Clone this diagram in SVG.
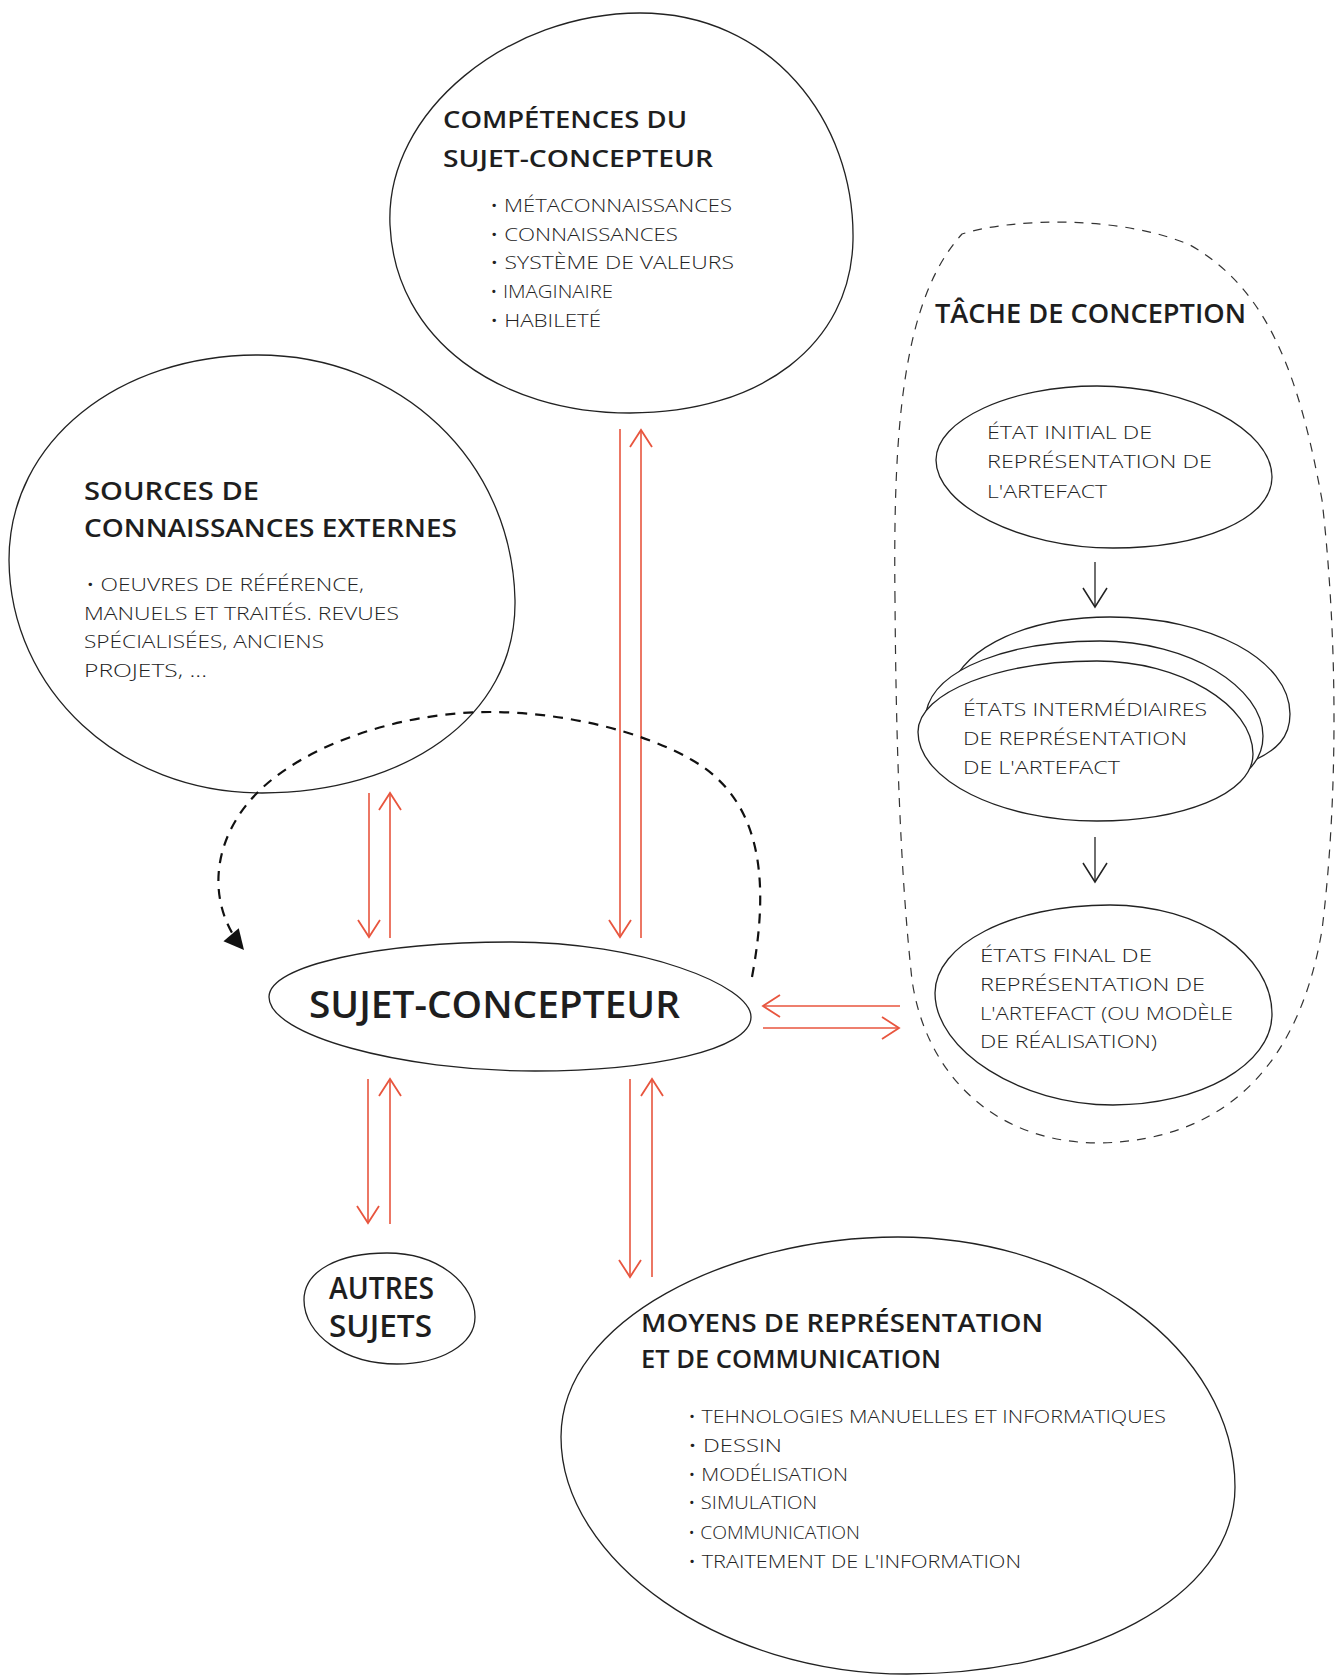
<svg xmlns="http://www.w3.org/2000/svg" width="1338" height="1675" viewBox="0 0 1338 1675">
<style>
  .bg{fill:#ffffff}
  .outline{fill:#ffffff;stroke:#222222;stroke-width:1.3}
  .boundary{fill:none;stroke:#333333;stroke-width:1.2;stroke-dasharray:9 8}
  .title{font-family:"Open Sans","Liberation Sans",sans-serif;font-weight:600;fill:#1e1e1e}
  .item{font-family:"Open Sans","Liberation Sans",sans-serif;font-weight:300;fill:#222222}
  .red{fill:none;stroke:#e8553e;stroke-width:1.6}
  .blk{fill:none;stroke:#222222;stroke-width:1.3}
  .loop{fill:none;stroke:#111111;stroke-width:2.2;stroke-dasharray:10 8}
</style>
<defs>
  <marker id="redV" viewBox="-20 -13 22 26" refX="0" refY="0" markerWidth="22" markerHeight="26" markerUnits="userSpaceOnUse" orient="auto">
    <path d="M-17,-11 L0,0 L-17,11" fill="none" stroke="#e8553e" stroke-width="1.8"/>
  </marker>
  <marker id="blkV" viewBox="-22 -14 24 28" refX="0" refY="0" markerWidth="24" markerHeight="28" markerUnits="userSpaceOnUse" orient="auto">
    <path d="M-19,-12 L0,0 L-19,12" fill="none" stroke="#222222" stroke-width="1.5"/>
  </marker>
  <marker id="blkTri" viewBox="-22 -12 24 24" refX="0" refY="0" markerWidth="24" markerHeight="24" markerUnits="userSpaceOnUse" orient="auto">
    <path d="M-20,-10 L0,0 L-20,10 Z" fill="#111111"/>
  </marker>
</defs>
<rect class="bg" x="0" y="0" width="1338" height="1675"/>

<g id="tache-de-conception">
  <path class="boundary" d="M 895,600 C 893,430 902,300 962,234 C 1012,218 1120,215 1190,245 C 1270,290 1300,380 1322,500 C 1338,640 1338,800 1322,930 C 1300,1060 1230,1140 1100,1143 C 990,1143 925,1070 912,980 C 900,870 896,740 895,600 Z"/>
  <text class="title" x="935" y="323" font-size="27" textLength="311" lengthAdjust="spacingAndGlyphs">TÂCHE DE CONCEPTION</text>
</g>

<g id="competences">
  <path class="outline" d="M 390,225 C 385,110 510,13 640,13 C 770,13 855,120 853,240 C 851,345 760,413 630,413 C 500,413 395,340 390,225 Z"/>
  <text class="title" x="443" y="128" font-size="24" textLength="244" lengthAdjust="spacingAndGlyphs">COMPÉTENCES DU</text>
  <text class="title" x="443" y="167" font-size="24" textLength="270" lengthAdjust="spacingAndGlyphs">SUJET-CONCEPTEUR</text>
  <text class="item" x="490" y="212" font-size="18" textLength="242" lengthAdjust="spacingAndGlyphs">• MÉTACONNAISSANCES</text>
  <text class="item" x="490" y="241" font-size="18" textLength="188" lengthAdjust="spacingAndGlyphs">• CONNAISSANCES</text>
  <text class="item" x="490" y="269" font-size="18" textLength="244" lengthAdjust="spacingAndGlyphs">• SYSTÈME DE VALEURS</text>
  <text class="item" x="490" y="298" font-size="18" textLength="123" lengthAdjust="spacingAndGlyphs">• IMAGINAIRE</text>
  <text class="item" x="490" y="327" font-size="18" textLength="111" lengthAdjust="spacingAndGlyphs">• HABILETÉ</text>
</g>

<g id="sources">
  <path class="outline" d="M 9,560 C 9,440 120,355 258,355 C 400,355 512,460 515,600 C 517,720 400,793 262,793 C 120,793 10,690 9,560 Z"/>
  <text class="title" x="84" y="500" font-size="25" textLength="175" lengthAdjust="spacingAndGlyphs">SOURCES DE</text>
  <text class="title" x="84" y="537" font-size="25" textLength="373" lengthAdjust="spacingAndGlyphs">CONNAISSANCES EXTERNES</text>
  <text class="item" x="86" y="591" font-size="18" textLength="278" lengthAdjust="spacingAndGlyphs">• OEUVRES DE RÉFÉRENCE,</text>
  <text class="item" x="84" y="620" font-size="18" textLength="315" lengthAdjust="spacingAndGlyphs">MANUELS ET TRAITÉS. REVUES</text>
  <text class="item" x="84" y="648" font-size="18" textLength="240" lengthAdjust="spacingAndGlyphs">SPÉCIALISÉES, ANCIENS</text>
  <text class="item" x="84" y="677" font-size="18" textLength="123" lengthAdjust="spacingAndGlyphs">PROJETS, ...</text>
</g>

<g id="etat-initial">
  <path class="outline" d="M 936,460 C 936,420 1010,386 1097,386 C 1190,386 1272,430 1272,477 C 1272,520 1200,548 1113,548 C 1020,548 936,505 936,460 Z"/>
  <text class="item" x="987" y="439" font-size="19" textLength="165" lengthAdjust="spacingAndGlyphs">ÉTAT INITIAL DE</text>
  <text class="item" x="987" y="468" font-size="19" textLength="225" lengthAdjust="spacingAndGlyphs">REPRÉSENTATION DE</text>
  <text class="item" x="987" y="498" font-size="19" textLength="120" lengthAdjust="spacingAndGlyphs">L'ARTEFACT</text>
</g>

<g id="etats-intermediaires">
  <path class="outline" d="M 950,690 C 965,645 1030,617 1110,617 C 1210,617 1290,660 1290,714 C 1290,738 1276,750 1255,760 C 1180,790 1000,780 950,690 Z"/>
  <path class="outline" d="M 926,712 C 935,668 1010,641 1100,641 C 1190,641 1263,688 1263,736 C 1263,770 1230,795 1150,800 C 1040,805 930,770 926,712 Z"/>
  <path class="outline" d="M 918,732 C 918,692 1000,661 1097,661 C 1180,661 1253,705 1253,754 C 1253,795 1180,821 1097,821 C 1000,821 918,780 918,732 Z"/>
  <text class="item" x="963" y="716" font-size="19" textLength="244" lengthAdjust="spacingAndGlyphs">ÉTATS INTERMÉDIAIRES</text>
  <text class="item" x="963" y="745" font-size="19" textLength="224" lengthAdjust="spacingAndGlyphs">DE REPRÉSENTATION</text>
  <text class="item" x="963" y="774" font-size="19" textLength="157" lengthAdjust="spacingAndGlyphs">DE L'ARTEFACT</text>
</g>

<g id="etat-final">
  <path class="outline" d="M 935,993 C 935,945 1010,905 1110,905 C 1200,905 1272,955 1272,1014 C 1272,1065 1200,1105 1113,1105 C 1020,1105 935,1050 935,993 Z"/>
  <text class="item" x="980" y="962" font-size="19" textLength="172" lengthAdjust="spacingAndGlyphs">ÉTATS FINAL DE</text>
  <text class="item" x="980" y="991" font-size="19" textLength="225" lengthAdjust="spacingAndGlyphs">REPRÉSENTATION DE</text>
  <text class="item" x="980" y="1020" font-size="19" textLength="253" lengthAdjust="spacingAndGlyphs">L'ARTEFACT (OU MODÈLE</text>
  <text class="item" x="980" y="1048" font-size="19" textLength="177" lengthAdjust="spacingAndGlyphs">DE RÉALISATION)</text>
</g>

<g id="sujet-concepteur">
  <path class="outline" d="M 269,997 C 269,965 380,942 512,942 C 640,942 751,985 751,1017 C 751,1050 650,1071 535,1071 C 400,1071 269,1035 269,997 Z"/>
  <text class="title" x="309" y="1018" font-size="37" textLength="371" lengthAdjust="spacingAndGlyphs">SUJET-CONCEPTEUR</text>
</g>

<g id="autres-sujets">
  <path class="outline" d="M 304,1300 C 304,1270 340,1253 387,1253 C 440,1253 475,1285 475,1317 C 475,1345 440,1364 397,1364 C 345,1364 304,1335 304,1300 Z"/>
  <text class="title" x="329" y="1299" font-size="30" textLength="105" lengthAdjust="spacingAndGlyphs">AUTRES</text>
  <text class="title" x="329" y="1337" font-size="30" textLength="103" lengthAdjust="spacingAndGlyphs">SUJETS</text>
</g>

<g id="moyens">
  <path class="outline" d="M 561,1437 C 561,1320 730,1237 898,1237 C 1080,1237 1235,1350 1235,1487 C 1235,1600 1080,1674 907,1674 C 720,1674 561,1560 561,1437 Z"/>
  <text class="title" x="641" y="1332" font-size="25" textLength="402" lengthAdjust="spacingAndGlyphs">MOYENS DE REPRÉSENTATION</text>
  <text class="title" x="641" y="1368" font-size="25" textLength="300" lengthAdjust="spacingAndGlyphs">ET DE COMMUNICATION</text>
  <text class="item" x="688" y="1423" font-size="19" textLength="478" lengthAdjust="spacingAndGlyphs">• TEHNOLOGIES MANUELLES ET INFORMATIQUES</text>
  <text class="item" x="688" y="1452" font-size="19" textLength="94" lengthAdjust="spacingAndGlyphs">• DESSIN</text>
  <text class="item" x="688" y="1481" font-size="19" textLength="160" lengthAdjust="spacingAndGlyphs">• MODÉLISATION</text>
  <text class="item" x="688" y="1509" font-size="19" textLength="129" lengthAdjust="spacingAndGlyphs">• SIMULATION</text>
  <text class="item" x="688" y="1539" font-size="19" textLength="172" lengthAdjust="spacingAndGlyphs">• COMMUNICATION</text>
  <text class="item" x="688" y="1568" font-size="19" textLength="333" lengthAdjust="spacingAndGlyphs">• TRAITEMENT DE L'INFORMATION</text>
</g>

<g id="connectors">
  <!-- sources <-> sujet -->
  <line class="red" x1="369" y1="793" x2="369" y2="937" marker-end="url(#redV)"/>
  <line class="red" x1="390" y1="938" x2="390" y2="793" marker-end="url(#redV)"/>
  <!-- competences <-> sujet -->
  <line class="red" x1="620" y1="429" x2="620" y2="937" marker-end="url(#redV)"/>
  <line class="red" x1="641" y1="938" x2="641" y2="430" marker-end="url(#redV)"/>
  <!-- sujet <-> autres -->
  <line class="red" x1="368" y1="1079" x2="368" y2="1223" marker-end="url(#redV)"/>
  <line class="red" x1="390" y1="1224" x2="390" y2="1079" marker-end="url(#redV)"/>
  <!-- sujet <-> moyens -->
  <line class="red" x1="630" y1="1079" x2="630" y2="1277" marker-end="url(#redV)"/>
  <line class="red" x1="652" y1="1277" x2="652" y2="1079" marker-end="url(#redV)"/>
  <!-- sujet <-> tache -->
  <line class="red" x1="900" y1="1006" x2="763" y2="1006" marker-end="url(#redV)"/>
  <line class="red" x1="763" y1="1028" x2="899" y2="1028" marker-end="url(#redV)"/>
  <!-- task flow -->
  <line class="blk" x1="1095" y1="562" x2="1095" y2="607" marker-end="url(#blkV)"/>
  <line class="blk" x1="1095" y1="837" x2="1095" y2="882" marker-end="url(#blkV)"/>
  <!-- self loop -->
  <path class="loop" d="M 752,977 C 770,880 762,800 692,760 C 640,730 560,712 490,712 C 400,712 305,745 258,792 C 210,840 206,905 244,950" marker-end="url(#blkTri)"/>
</g>
</svg>
